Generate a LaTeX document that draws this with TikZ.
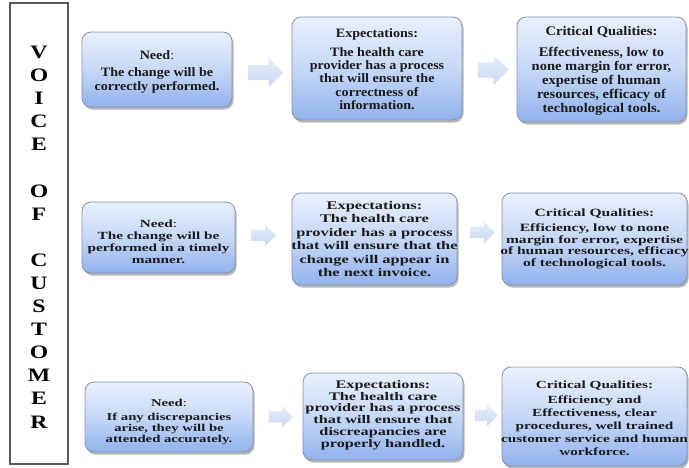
\documentclass[tikz,border=0pt]{standalone}
\usepackage{fontspec}
\newfontfamily\boxfont{Liberation Serif}[FakeStretch=1.25]
\newfontfamily\topfont{Liberation Serif}[FakeStretch=1.1]
\newfontfamily\widefont{Liberation Serif}[FakeStretch=1.4]
\usetikzlibrary{shapes.arrows,shadows,calc}
\definecolor{boxtop}{HTML}{E9F0FC}
\definecolor{boxmid}{HTML}{C6D8F7}
\definecolor{boxbot}{HTML}{91B2EC}
\definecolor{boxline}{HTML}{8792A8}
\definecolor{arrtop}{HTML}{E8EEFA}
\definecolor{arrbot}{HTML}{C8D6F2}
\definecolor{inkdark}{HTML}{1A1A1A}
\tikzset{
  stepbox/.style={rounded corners=9pt, draw=boxline, line width=0.8pt,
    top color=boxtop, bottom color=boxbot, middle color=boxmid,
    drop shadow={shadow xshift=1.5pt, shadow yshift=-2.5pt, opacity=0.4, fill=black!70},
    inner sep=0pt},
  steptext/.style={align=center, text=inkdark, inner sep=0pt},
  flowarrow/.style={single arrow, shape border rotate=0, draw=none,
    top color=arrtop, bottom color=arrbot, inner sep=0pt,
    single arrow head indent=0pt},
  bigarrow/.style={flowarrow, minimum height=35pt, minimum width=29pt,
    inner sep=7.5pt, single arrow head extend=7pt},
  smallarrow/.style={flowarrow, minimum height=25pt, minimum width=21pt,
    inner sep=5.5pt, single arrow head extend=5pt},
  sidebar/.style={draw=black!65, line width=1.3pt, fill=white},
}
\newcommand{\needhead}{\textbf{Need}{\mdseries:}}
\begin{document}
\begin{tikzpicture}[x=1pt,y=-1pt]
\useasboundingbox[fill=white] (0,0) rectangle (689,467);

% side banner
\draw[sidebar] (10,3) rectangle (68,464);
\node[align=center, font=\boxfont\bfseries\fontsize{19}{23.1}\selectfont, inner sep=0pt]
  (voc) at (39,237) {V\\O\\I\\C\\E\\\mbox{}\\O\\F\\\mbox{}\\C\\U\\S\\T\\O\\M\\E\\R};

% boxes
\node[stepbox, minimum width=150pt, minimum height=75pt] (n1) at (157,69.5) {};
\node[stepbox, minimum width=170pt, minimum height=103pt] (e1) at (377,68.5) {};
\node[stepbox, minimum width=169pt, minimum height=105pt] (c1) at (601.5,69.5) {};
\node[stepbox, minimum width=153pt, minimum height=71pt] (n2) at (158.5,237.5) {};
\node[stepbox, minimum width=165pt, minimum height=92pt] (e2) at (374.5,239) {};
\node[stepbox, minimum width=185pt, minimum height=92pt] (c2) at (594.5,239) {};
\node[stepbox, minimum width=168pt, minimum height=70pt] (n3) at (169,417) {};
\node[stepbox, minimum width=160pt, minimum height=87pt] (e3) at (383,416.5) {};
\node[stepbox, minimum width=185pt, minimum height=99pt] (c3) at (594.5,416.5) {};

% first row texts
\node[steptext, font=\topfont\bfseries\fontsize{12.8}{14}\selectfont]
  (n1t) at ($(n1.center)+(0,2)$)
  {\needhead\\[3pt]The change will be\\correctly performed.};
\node[steptext, font=\topfont\bfseries\fontsize{12.8}{13.1}\selectfont]
  (e1t) at ($(e1.center)+(0,0.5)$)
  {Expectations:\\[6pt]The health care\\provider has a process\\that will ensure the\\correctness of\\information.};
\node[steptext, font=\topfont\bfseries\fontsize{13.2}{14.2}\selectfont]
  (c1t) at ($(c1.center)+(0,1.5)$)
  {Critical Qualities:\\[6.5pt]Effectiveness, low to\\none margin for error,\\expertise of human\\resources, efficacy of\\technological tools.};

% second row texts
\node[steptext, font=\widefont\bfseries\fontsize{10.9}{11.6}\selectfont]
  (n2t) at ($(n2.center)+(0,4)$)
  {\needhead\\[1pt]The change will be\\performed in a timely\\manner.};
\node[steptext, font=\widefont\bfseries\fontsize{11.7}{13.4}\selectfont]
  (e2t) at (e2.center)
  {Expectations:\\The health care\\provider has a process\\that will ensure that the\\change will appear in\\the next invoice.};
\node[steptext, font=\widefont\bfseries\fontsize{11.1}{11.7}\selectfont]
  (c2t) at (c2.center)
  {Critical Qualities:\\[3pt]Efficiency, low to none\\margin for error, expertise\\of human resources, efficacy\\of technological tools.};

% third row texts
\node[steptext, font=\widefont\bfseries\fontsize{10.5}{10.8}\selectfont]
  (n3t) at ($(n3.center)+(0,5)$)
  {\needhead\\[3pt]If any discrepancies\\arise, they will be\\attended accurately.};
\node[steptext, font=\widefont\bfseries\fontsize{11.6}{11.8}\selectfont]
  (e3t) at ($(e3.center)+(0,-1.5)$)
  {Expectations:\\The health care\\provider has a process\\that will ensure that\\discreapancies are\\properly handled.};
\node[steptext, font=\widefont\bfseries\fontsize{10.9}{13}\selectfont]
  (c3t) at ($(c3.center)+(0,2)$)
  {Critical Qualities:\\[2pt]Efficiency and\\Effectiveness, clear\\procedures, well trained\\customer service and human\\workforce.};

% block arrows between the boxes
\node[bigarrow] (a11) at ($(n1.east)!0.5!(e1.west)+(0,3.5)$) {};
\node[bigarrow, minimum height=30pt] (a12) at ($(e1.east)!0.5!(c1.west)+(0,1)$) {};
\node[smallarrow] (a21) at ($(n2.east)!0.5!(e2.west)+(-3,-3)$) {};
\node[smallarrow] (a22) at ($(e2.east)!0.5!(c2.west)+(0,-6.5)$) {};
\node[smallarrow, minimum height=24pt] (a31) at ($(n3.east)!0.5!(e3.west)+(0,0)$) {};
\node[smallarrow, minimum height=23pt] (a32) at ($(e3.east)!0.5!(c3.west)+(1,-1)$) {};
\end{tikzpicture}
\end{document}
